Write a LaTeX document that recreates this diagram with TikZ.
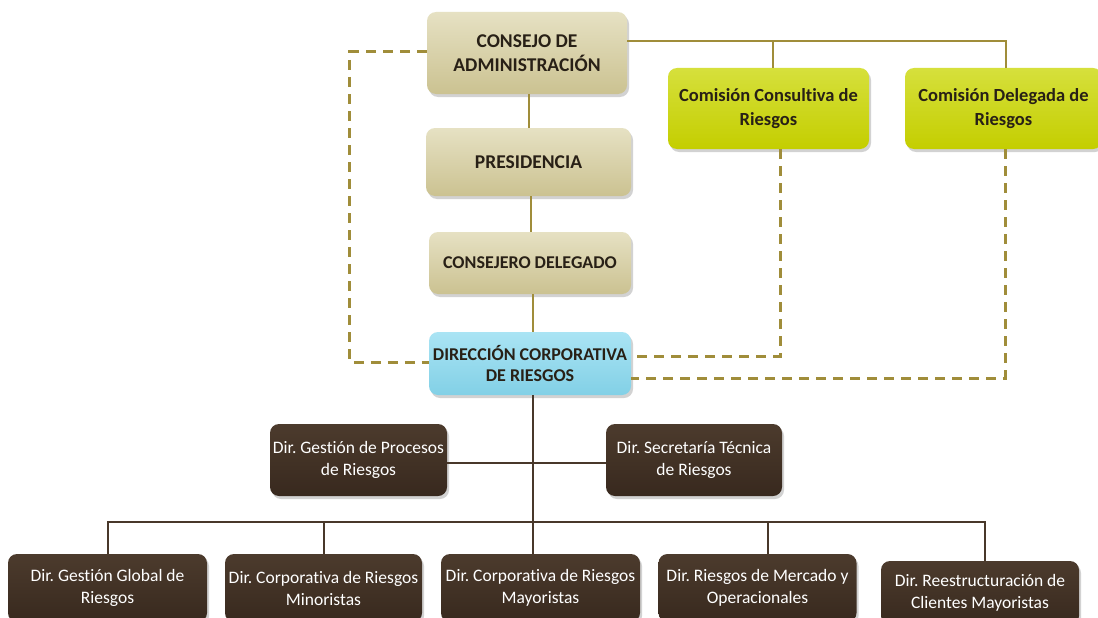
\documentclass[tikz,border=0pt]{standalone}
\usepackage{fontspec}
\setmainfont[Ligatures=NoCommon]{Carlito}
\usetikzlibrary{shadows,calc}
\definecolor{olive}{RGB}{160,141,58}
\definecolor{brownline}{RGB}{72,56,42}
\definecolor{beigetop}{RGB}{230,225,195}
\definecolor{beigebot}{RGB}{203,194,145}
\definecolor{limetop}{RGB}{214,224,60}
\definecolor{limebot}{RGB}{196,206,0}
\definecolor{bluetop}{RGB}{170,228,244}
\definecolor{bluebot}{RGB}{130,208,230}
\definecolor{darktop}{RGB}{76,59,45}
\definecolor{darkbot}{RGB}{56,41,30}
\definecolor{darktext}{RGB}{40,32,22}
\tikzset{
  box/.style={rounded corners=9pt, inner sep=0pt, align=center,
    drop shadow={opacity=0.35, shadow xshift=2pt, shadow yshift=-3pt}},
  beige/.style={box, top color=beigetop, bottom color=beigebot, text=darktext,
    font=\bfseries\fontsize{19.5}{24}\selectfont},
  lime/.style={box, top color=limetop, bottom color=limebot, text=darktext,
    font=\bfseries\fontsize{18.5}{24}\selectfont},
  bluebox/.style={box, top color=bluetop, bottom color=bluebot, text=darktext,
    font=\bfseries\fontsize{18}{21}\selectfont},
  dark/.style={box, top color=darktop, bottom color=darkbot, text=white,
    font=\fontsize{17.5}{22}\selectfont},
  solidline/.style={draw=olive, line width=2.6pt},
  dashline/.style={draw=olive, line width=3pt, dash pattern=on 10pt off 7pt},
  brownl/.style={draw=brownline, line width=2pt},
}
\frenchspacing
\begin{document}
\begin{tikzpicture}[x=1pt, y=-1pt]
\clip (0,0) rectangle (1098,618);
\fill[white] (0,0) rectangle (1098,618);
% top beige nodes
\node[beige, minimum width=200, minimum height=82] (cons) at (527,53) {CONSEJO DE\\ADMINISTRACIÓN};
\node[beige, minimum width=205, minimum height=68] (pres) at (528.5,162) {PRESIDENCIA};
\node[beige, minimum width=202, minimum height=62, font=\bfseries\fontsize{18}{21}\selectfont] (cdel) at (530,263) {CONSEJERO DELEGADO};
\node[bluebox, minimum width=202, minimum height=63] (dcr) at (530,363.5) {DIRECCIÓN CORPORATIVA\\DE RIESGOS};
% committees
\node[lime, minimum width=201, minimum height=81] (comc) at (768.5,108.5) {Comisión Consultiva de\\Riesgos};
\node[lime, minimum width=197, minimum height=81] (comd) at (1003.5,108.5) {Comisión Delegada de\\Riesgos};
% middle dark
\node[dark, minimum width=177, minimum height=72] (proc) at (358.5,460) {Dir. Gestión de Procesos\\de Riesgos};
\node[dark, minimum width=176, minimum height=72] (sec) at (694,460) {Dir. Secretaría Técnica\\de Riesgos};
% bottom dark
\node[dark, minimum width=199, minimum height=68] (glob) at (107.5,588) {Dir. Gestión Global de\\Riesgos};
\node[dark, minimum width=197, minimum height=68] (mino) at (323.5,588) {Dir. Corporativa de Riesgos\\Minoristas};
\node[dark, minimum width=199, minimum height=68] (mayo) at (540.5,588) {Dir. Corporativa de Riesgos\\Mayoristas};
\node[dark, minimum width=198, minimum height=68] (merc) at (757.5,588) {Dir. Riesgos de Mercado y\\Operacionales};
\node[dark, minimum width=198, minimum height=64] (reest) at (980,593) {Dir. Reestructuración de\\Clientes Mayoristas};
% solid olive connectors
\draw[solidline] ([xshift=2pt]cons.south) -- ([xshift=0.5pt]pres.north);
\draw[solidline] ([xshift=2.5pt]pres.south) -- ([xshift=1pt]cdel.north);
\draw[solidline] ([xshift=3pt]cdel.south) -- ([xshift=3pt]dcr.north);
\draw[solidline] ([yshift=12pt]cons.east) -| ([xshift=2.5pt]comd.north);
\draw[solidline] ([xshift=4.5pt]comc.north) |- ([yshift=12pt]cons.east);
% dashed olive connectors
\draw[dashline] ([yshift=1pt]cons.west) -- ++(-77,0) coordinate (dl) |- ([yshift=1.5pt]dcr.west);
\draw[dashline] ([xshift=11.5pt]comc.south) |- ([yshift=7.5pt]dcr.east);
\draw[dashline] ([xshift=1.5pt]comd.south) |- ([yshift=-14.5pt]dcr.east);
% brown connectors
\draw[brownl] ([xshift=3pt]dcr.south) -- ([xshift=-7.5pt]mayo.north);
\draw[brownl] ([yshift=-3pt]proc.east) -- ([yshift=-3pt]sec.west);
\draw[brownl] (glob.north) -- ++(0,-32) coordinate (bus) -| ([xshift=5pt]reest.north);
\draw[brownl] (mino.north) -- (mino.north |- bus);
\draw[brownl] ([xshift=10pt]merc.north) -- ([xshift=10pt]merc.north |- bus);
\end{tikzpicture}
\end{document}
